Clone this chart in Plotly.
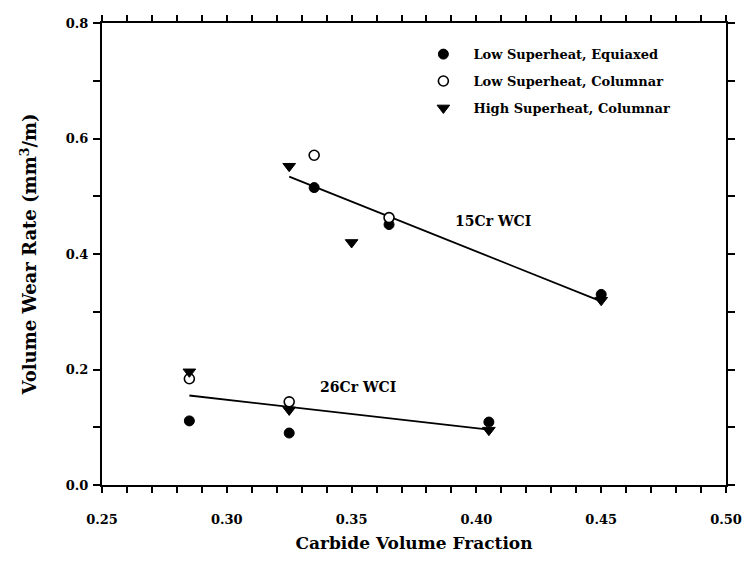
import plotly.graph_objects as go

# Carbide volume fraction vs. volume wear rate for two white cast irons
eq_x = [0.285, 0.325, 0.405, 0.335, 0.365, 0.45]
eq_y = [0.111, 0.090, 0.109, 0.515, 0.451, 0.330]

col_x = [0.285, 0.325, 0.335, 0.365]
col_y = [0.184, 0.144, 0.571, 0.463]

hs_x = [0.285, 0.325, 0.405, 0.325, 0.350, 0.45]
hs_y = [0.196, 0.130, 0.095, 0.552, 0.420, 0.320]

# Linear trend lines (end points)
fit15_x = [0.325, 0.45]
fit15_y = [0.534, 0.318]
fit26_x = [0.285, 0.405]
fit26_y = [0.155, 0.096]

series_names = ["Low Superheat, Equiaxed", "Low Superheat, Columnar", "High Superheat, Columnar"]
alloy_labels = [("15Cr WCI", 0.4065, 0.458), ("26Cr WCI", 0.3527, 0.170)]

x_range = [0.25, 0.50]
y_range = [0.0, 0.8]

FONT = "DejaVu Serif"

fig = go.Figure()

for fx, fy in [(fit15_x, fit15_y), (fit26_x, fit26_y)]:
    fig.add_trace(go.Scatter(x=fx, y=fy, mode="lines", showlegend=False,
                             line=dict(color="black", width=1.8), hoverinfo="skip"))

fig.add_trace(go.Scatter(x=eq_x, y=eq_y, mode="markers", name=series_names[0], legendgroup="a",
                         marker=dict(symbol="circle", size=10, color="black",
                                     line=dict(color="black", width=1))))
fig.add_trace(go.Scatter(x=col_x, y=col_y, mode="markers", name=series_names[1], legendgroup="b",
                         marker=dict(symbol="circle", size=10, color="white",
                                     line=dict(color="black", width=1.6))))
fig.add_trace(go.Scatter(x=hs_x, y=hs_y, mode="markers", name=series_names[2], legendgroup="c",
                         marker=dict(symbol="triangle-down", size=11, color="black",
                                     line=dict(color="black", width=1))))

for text, ax, ay in alloy_labels:
    fig.add_annotation(x=ax, y=ay, text=text, showarrow=False,
                       font=dict(family=FONT, size=14, color="black", weight="bold"))

axis_common = dict(showline=True, linecolor="black", linewidth=2, showgrid=False,
                   zeroline=False, ticks="outside", tickcolor="black", tickwidth=1.5)

fig.update_layout(
    width=744, height=570,
    margin=dict(l=102, r=18, t=23, b=85, autoexpand=False),
    paper_bgcolor="white", plot_bgcolor="white",
    font=dict(family=FONT, color="black", size=13, weight="bold"),
    xaxis=dict(range=x_range, dtick=0.05, tick0=0.25, tickformat=".2f", ticklen=6,
               minor=dict(dtick=0.01, tick0=0.25, ticks="outside", ticklen=6, tickcolor="black"),
               ticklabelstandoff=15,
               title=dict(text="Carbide Volume Fraction", standoff=12,
                          font=dict(family=FONT, size=17, weight="bold")),
               **axis_common),
    yaxis=dict(range=y_range, dtick=0.2, tick0=0, tickformat=".1f", ticklen=7,
               minor=dict(dtick=0.1, tick0=0, ticks="outside", ticklen=7, tickcolor="black"),
               ticklabelstandoff=2,
               title=dict(text="Volume Wear Rate (mm<sup>3</sup>/m)", standoff=24,
                          font=dict(family=FONT, size=18, weight="bold")),
               **axis_common),
    xaxis2=dict(range=x_range, overlaying="x", side="top", dtick=0.05, tick0=0.25, ticklen=6,
                minor=dict(dtick=0.01, tick0=0.25, ticks="outside", ticklen=6, tickcolor="black"),
                showticklabels=False, **axis_common),
    yaxis2=dict(range=y_range, overlaying="y", side="right", dtick=0.2, tick0=0, ticklen=7,
                minor=dict(dtick=0.1, tick0=0, ticks="outside", ticklen=7, tickcolor="black"),
                showticklabels=False, **axis_common),
    legend=dict(x=0.499, y=0.965, xanchor="left", yanchor="top", bgcolor="rgba(0,0,0,0)",
                itemwidth=50, tracegroupgap=7, traceorder="grouped",
                font=dict(family=FONT, size=13, weight="bold")),
)

# invisible trace so the mirrored frame axes are drawn
fig.add_trace(go.Scatter(x=[0.3], y=[0.1], xaxis="x2", yaxis="y2", mode="markers",
                         marker=dict(opacity=0), showlegend=False, hoverinfo="skip"))

fig.write_html("out.html")
